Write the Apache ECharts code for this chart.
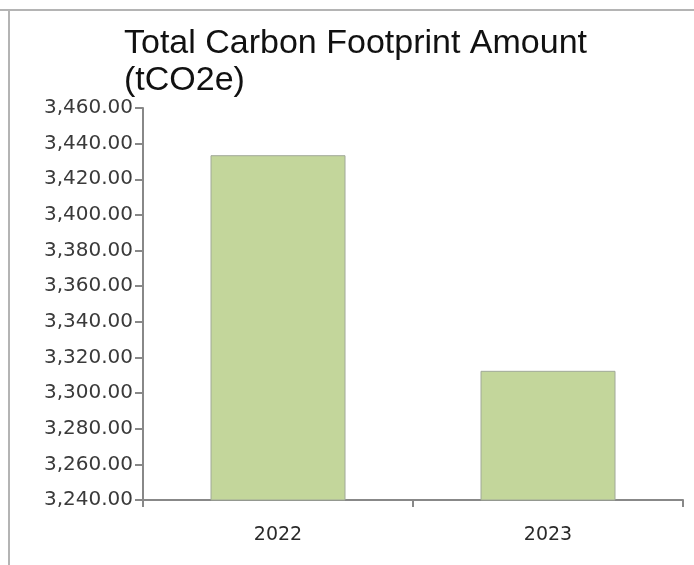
<!DOCTYPE html>
<html>
<head>
<meta charset="utf-8">
<script src="https://cdn.jsdelivr.net/npm/echarts@6/dist/echarts.min.js"></script>
<style>
  html, body { margin: 0; padding: 0; background: #fff; }
  #chart { width: 694px; height: 565px; }
</style>
</head>
<body>
<div id="chart"></div>
<script>
// 数据
var years = ['2022', '2023'];
var footprint = [3433.5, 3312.5];
var yMin = 3240, yMax = 3460, yStep = 20;

var myChart = echarts.init(document.getElementById('chart'));
var option = {
    backgroundColor: '#fff',
    animation: false,
    title: {
        text: 'Total Carbon Footprint Amount\n(tCO2e)',
        left: 119,
        top: 20,
        textStyle: {
            fontFamily: 'Liberation Sans',
            fontSize: 34,
            fontWeight: 'normal',
            lineHeight: 37,
            color: '#111'
        }
    },
    grid: {
        left: 143,
        right: 11,
        top: 108,
        bottom: 65
    },
    xAxis: {
        type: 'category',
        data: years,
        axisLine: { lineStyle: { color: '#888', width: 2 } },
        axisTick: { show: true, length: 7, lineStyle: { color: '#888', width: 2 } },
        axisLabel: {
            fontFamily: 'DejaVu Sans',
            fontSize: 19,
            color: '#2a2a2a',
            margin: 26
        },
        splitLine: { show: false }
    },
    yAxis: {
        type: 'value',
        min: yMin,
        max: yMax,
        interval: yStep,
        axisLine: { show: true, lineStyle: { color: '#888', width: 2 } },
        axisTick: { show: true, length: 8, lineStyle: { color: '#888', width: 2 } },
        axisLabel: {
            fontFamily: 'DejaVu Sans',
            fontSize: 20,
            color: '#3a3a3a',
            margin: 10,
            formatter: function (v) {
                return v.toLocaleString('en-US', { minimumFractionDigits: 2, maximumFractionDigits: 2 });
            }
        },
        splitLine: { show: false }
    },
    series: [
        {
            type: 'bar',
            data: footprint,
            barWidth: '50%',
            itemStyle: {
                color: '#c3d69b',
                borderColor: '#a0a898',
                borderWidth: 1
            }
        }
    ],
    graphic: [
        { type: 'rect', shape: { x: 0, y: 9, width: 694, height: 2 }, style: { fill: '#b4b4b4' }, silent: true },
        { type: 'rect', shape: { x: 8, y: 9, width: 2, height: 556 }, style: { fill: '#b4b4b4' }, silent: true }
    ]
};
myChart.setOption(option);
</script>
</body>
</html>
